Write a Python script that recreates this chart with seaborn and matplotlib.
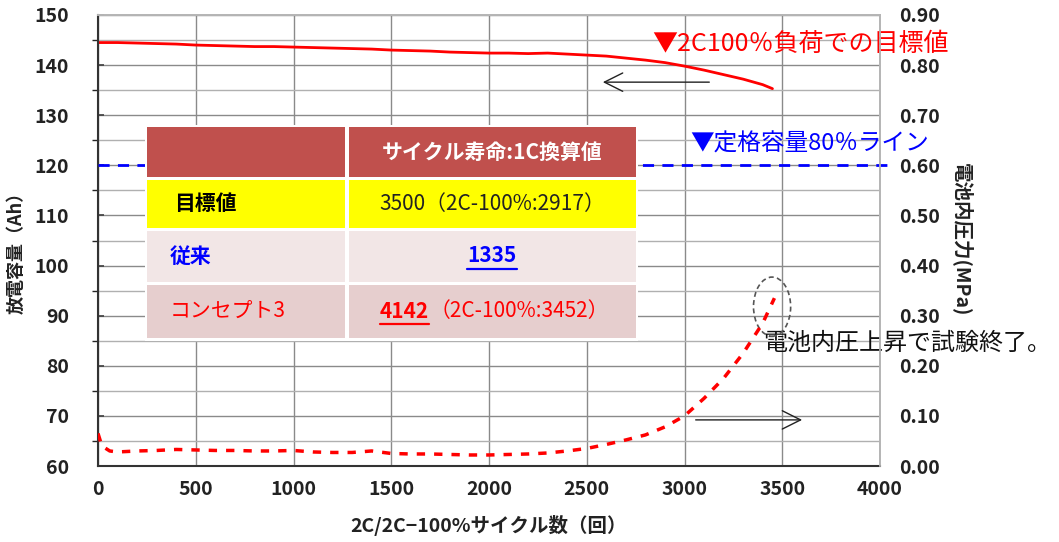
import numpy as np
import pandas as pd
import matplotlib
matplotlib.use("Agg")
import matplotlib.pyplot as plt
import seaborn as sns
from matplotlib.patches import Rectangle, Ellipse
from matplotlib.lines import Line2D
from matplotlib.ticker import MultipleLocator

# ---------------- DATA ----------------
cap_cycles = [0, 100, 200, 300, 400, 500, 600, 700, 800, 900, 1000, 1100, 1200,
              1300, 1400, 1500, 1600, 1700, 1800, 1900, 2000, 2100, 2200, 2300,
              2400, 2500, 2600, 2700, 2800, 2900, 3000, 3100, 3200, 3300, 3400, 3450]
capacity = [144.5, 144.5, 144.4, 144.3, 144.2, 144.0, 143.9, 143.8, 143.7, 143.7,
            143.6, 143.5, 143.4, 143.3, 143.2, 143.0, 142.9, 142.8, 142.6, 142.5,
            142.4, 142.4, 142.3, 142.4, 142.2, 142.0, 141.8, 141.4, 141.0, 140.5,
            139.8, 139.0, 138.1, 137.2, 136.1, 135.3]

pres_cycles = [0, 20, 60, 100, 200, 300, 400, 500, 600, 700, 800, 900, 1000, 1100,
               1200, 1300, 1400, 1500, 1600, 1700, 1800, 1900, 2000, 2100, 2200,
               2300, 2400, 2500, 2600, 2700, 2800, 2900, 3000, 3100, 3200, 3300,
               3400, 3460]
pressure = [0.065, 0.040, 0.030, 0.028, 0.030, 0.031, 0.033, 0.032, 0.031, 0.031,
            0.030, 0.030, 0.031, 0.028, 0.027, 0.027, 0.030, 0.025, 0.024, 0.024,
            0.023, 0.022, 0.022, 0.023, 0.024, 0.026, 0.030, 0.035, 0.043, 0.052,
            0.062, 0.078, 0.100, 0.135, 0.175, 0.225, 0.285, 0.335]

rated_80 = 120
left_ticks = [60, 70, 80, 90, 100, 110, 120, 130, 140, 150]
right_ticks = [0.0, 0.1, 0.2, 0.3, 0.4, 0.5, 0.6, 0.7, 0.8, 0.9]
x_ticks = [0, 500, 1000, 1500, 2000, 2500, 3000, 3500, 4000]

table_header = ["", "サイクル寿命:1C換算値"]
table_rows = ["目標値", "従来", "コンセプト3"]
table_values = ["3500（2C-100%:2917）", "1335", "4142"]
concept_extra = "（2C-100%:3452）"

cap_df = pd.DataFrame({"cycle": cap_cycles, "capacity": capacity})
pres_df = pd.DataFrame({"cycle": pres_cycles, "pressure": pressure})

# ---------------- STYLE ----------------
sns.set_theme(style="white")
plt.rcParams["font.family"] = ["Noto Sans CJK JP", "DejaVu Sans"]

W, H = 1059, 542
fig = plt.figure(figsize=(W / 100, H / 100), dpi=100)


def fx(px):
    return px / W


def fy(py):
    return 1 - py / H


ax = fig.add_axes([fx(98), fy(466), (880 - 98) / W, (466 - 15) / H])
ax2 = ax.twinx()

# ---------------- LINES ----------------
sns.lineplot(data=cap_df, x="cycle", y="capacity", ax=ax, color="red", lw=2)
sns.lineplot(data=pres_df, x="cycle", y="pressure", ax=ax2, color="red", lw=2.5)
ax2.lines[-1].set_dashes([2.4, 2.6])
ax.axhline(rated_80, xmin=0, xmax=1.015, color="blue", lw=2,
           linestyle=(0, (4, 3)), clip_on=False, zorder=3)

ax.set_xlim(0, 4000)
ax.set_ylim(60, 150)
ax2.set_ylim(0, 0.9)
ax.set_xticks(x_ticks)
ax.set_yticks(left_ticks)
ax2.set_yticks(right_ticks)
ax.yaxis.set_minor_locator(MultipleLocator(5))
ax2.set_yticklabels([f"{t:.2f}" for t in right_ticks])

ax.grid(True, which="major", axis="both", color="#8a8a8a", lw=1)
ax.grid(True, which="minor", axis="y", color="#b0b0b0", lw=1)
ax.set_axisbelow(True)

for a in (ax, ax2):
    for lab in a.get_xticklabels() + a.get_yticklabels():
        lab.set_fontweight("bold")
        lab.set_fontsize(14)
        lab.set_color("#222222")

ax.tick_params(axis="y", direction="in", length=4, color="#444444", pad=21)
ax.tick_params(axis="x", direction="in", length=0, pad=10)
ax2.tick_params(axis="y", length=0, pad=14)

ax.spines["left"].set_color("#333333")
ax.spines["bottom"].set_color("#333333")
ax.spines["left"].set_linewidth(1.5)
ax.spines["bottom"].set_linewidth(1.5)
for s in ("top", "right"):
    ax.spines[s].set_color("#b5b5b5")
    ax2.spines[s].set_color("#b5b5b5")
ax2.spines["left"].set_visible(False)
ax2.spines["bottom"].set_visible(False)

ax.set_xlabel("")
ax.set_ylabel("")
ax2.set_ylabel("")
fig.text(fx(489), fy(526), "2C/2C−100%サイクル数（回）", ha="center", va="center",
         fontsize=14, fontweight="bold", color="#222222")
fig.text(fx(16), fy(248), "放電容量（Ah）", ha="center", va="center", rotation=90,
         fontsize=13, fontweight="bold", color="#222222")
fig.text(fx(962), fy(240), "電池内圧力(MPa)", ha="center", va="center", rotation=-90,
         fontsize=14, fontweight="bold", color="#222222")

# ---------------- ANNOTATIONS ----------------
ax.annotate("", xy=(2568, 136.6), xytext=(3141, 136.6),
            arrowprops=dict(arrowstyle="->,head_length=1.1,head_width=0.55",
                            color="#222222", lw=1))
ax.annotate("", xy=(3616, 69.2), xytext=(3043, 69.2),
            arrowprops=dict(arrowstyle="->,head_length=1.1,head_width=0.55",
                            color="#222222", lw=1))
ax2.add_patch(Ellipse((3448, 0.318), 190, 0.118, fill=False, edgecolor="#555555",
                      lw=1.2, linestyle=(0, (3, 2))))

ax.text(2834, 144.3, "▼2C100％負荷での目標値", color="red", fontsize=18,
        ha="left", va="center")
ax.text(3028, 124.3, "▼定格容量80％ライン", color="blue", fontsize=17,
        ha="left", va="center")
ax.text(3402, 84.5, "電池内圧上昇で試験終了。", color="#111111", fontsize=17.3,
        ha="left", va="center")

# ---------------- TABLE ----------------
fig.patches.append(Rectangle((fx(145), fy(341)), (638 - 145) / W, (341 - 125) / H,
                             transform=fig.transFigure, facecolor="white",
                             edgecolor="none", zorder=5))
cols = [(147, 345), (349, 636)]
rows = [(127, 177), (180, 228), (231, 282), (285, 338)]
row_colors = ["#C0504D", "#FFFF00", "#F2E6E6", "#E6CECE"]
for (y0, y1), c in zip(rows, row_colors):
    for x0, x1 in cols:
        fig.patches.append(Rectangle((fx(x0), fy(y1)), (x1 - x0) / W, (y1 - y0) / H,
                                     transform=fig.transFigure, facecolor=c,
                                     edgecolor="none", zorder=6))

tkw = dict(va="center", fontsize=15, zorder=7)
fig.text(fx(492), fy(152), table_header[1], ha="center", color="white",
         fontweight="bold", **tkw)
fig.text(fx(174), fy(204), table_rows[0], ha="left", color="black",
         fontweight="bold", **tkw)
fig.text(fx(492), fy(204), table_values[0], ha="center", color="#222222", **tkw)
fig.text(fx(170), fy(256), table_rows[1], ha="left", color="blue",
         fontweight="bold", **tkw)
t1335 = fig.text(fx(492), fy(256), table_values[1], ha="center", color="blue",
                 fontweight="bold", **tkw)
fig.text(fx(170), fy(311), table_rows[2], ha="left", color="red", **tkw)
t4142 = fig.text(fx(429), fy(311), table_values[2], ha="right", color="red",
                 fontweight="bold", **tkw)
fig.text(fx(430), fy(311), concept_extra, ha="left", color="red", **tkw)

fig.canvas.draw()
r = fig.canvas.get_renderer()
for t, col, py in ((t1335, "blue", 269), (t4142, "red", 324)):
    bb = t.get_window_extent(r)
    fig.add_artist(Line2D([bb.x0 / W, bb.x1 / W], [fy(py), fy(py)],
                          transform=fig.transFigure, color=col, lw=1.6, zorder=8))

fig.savefig("out.png", dpi=100)
